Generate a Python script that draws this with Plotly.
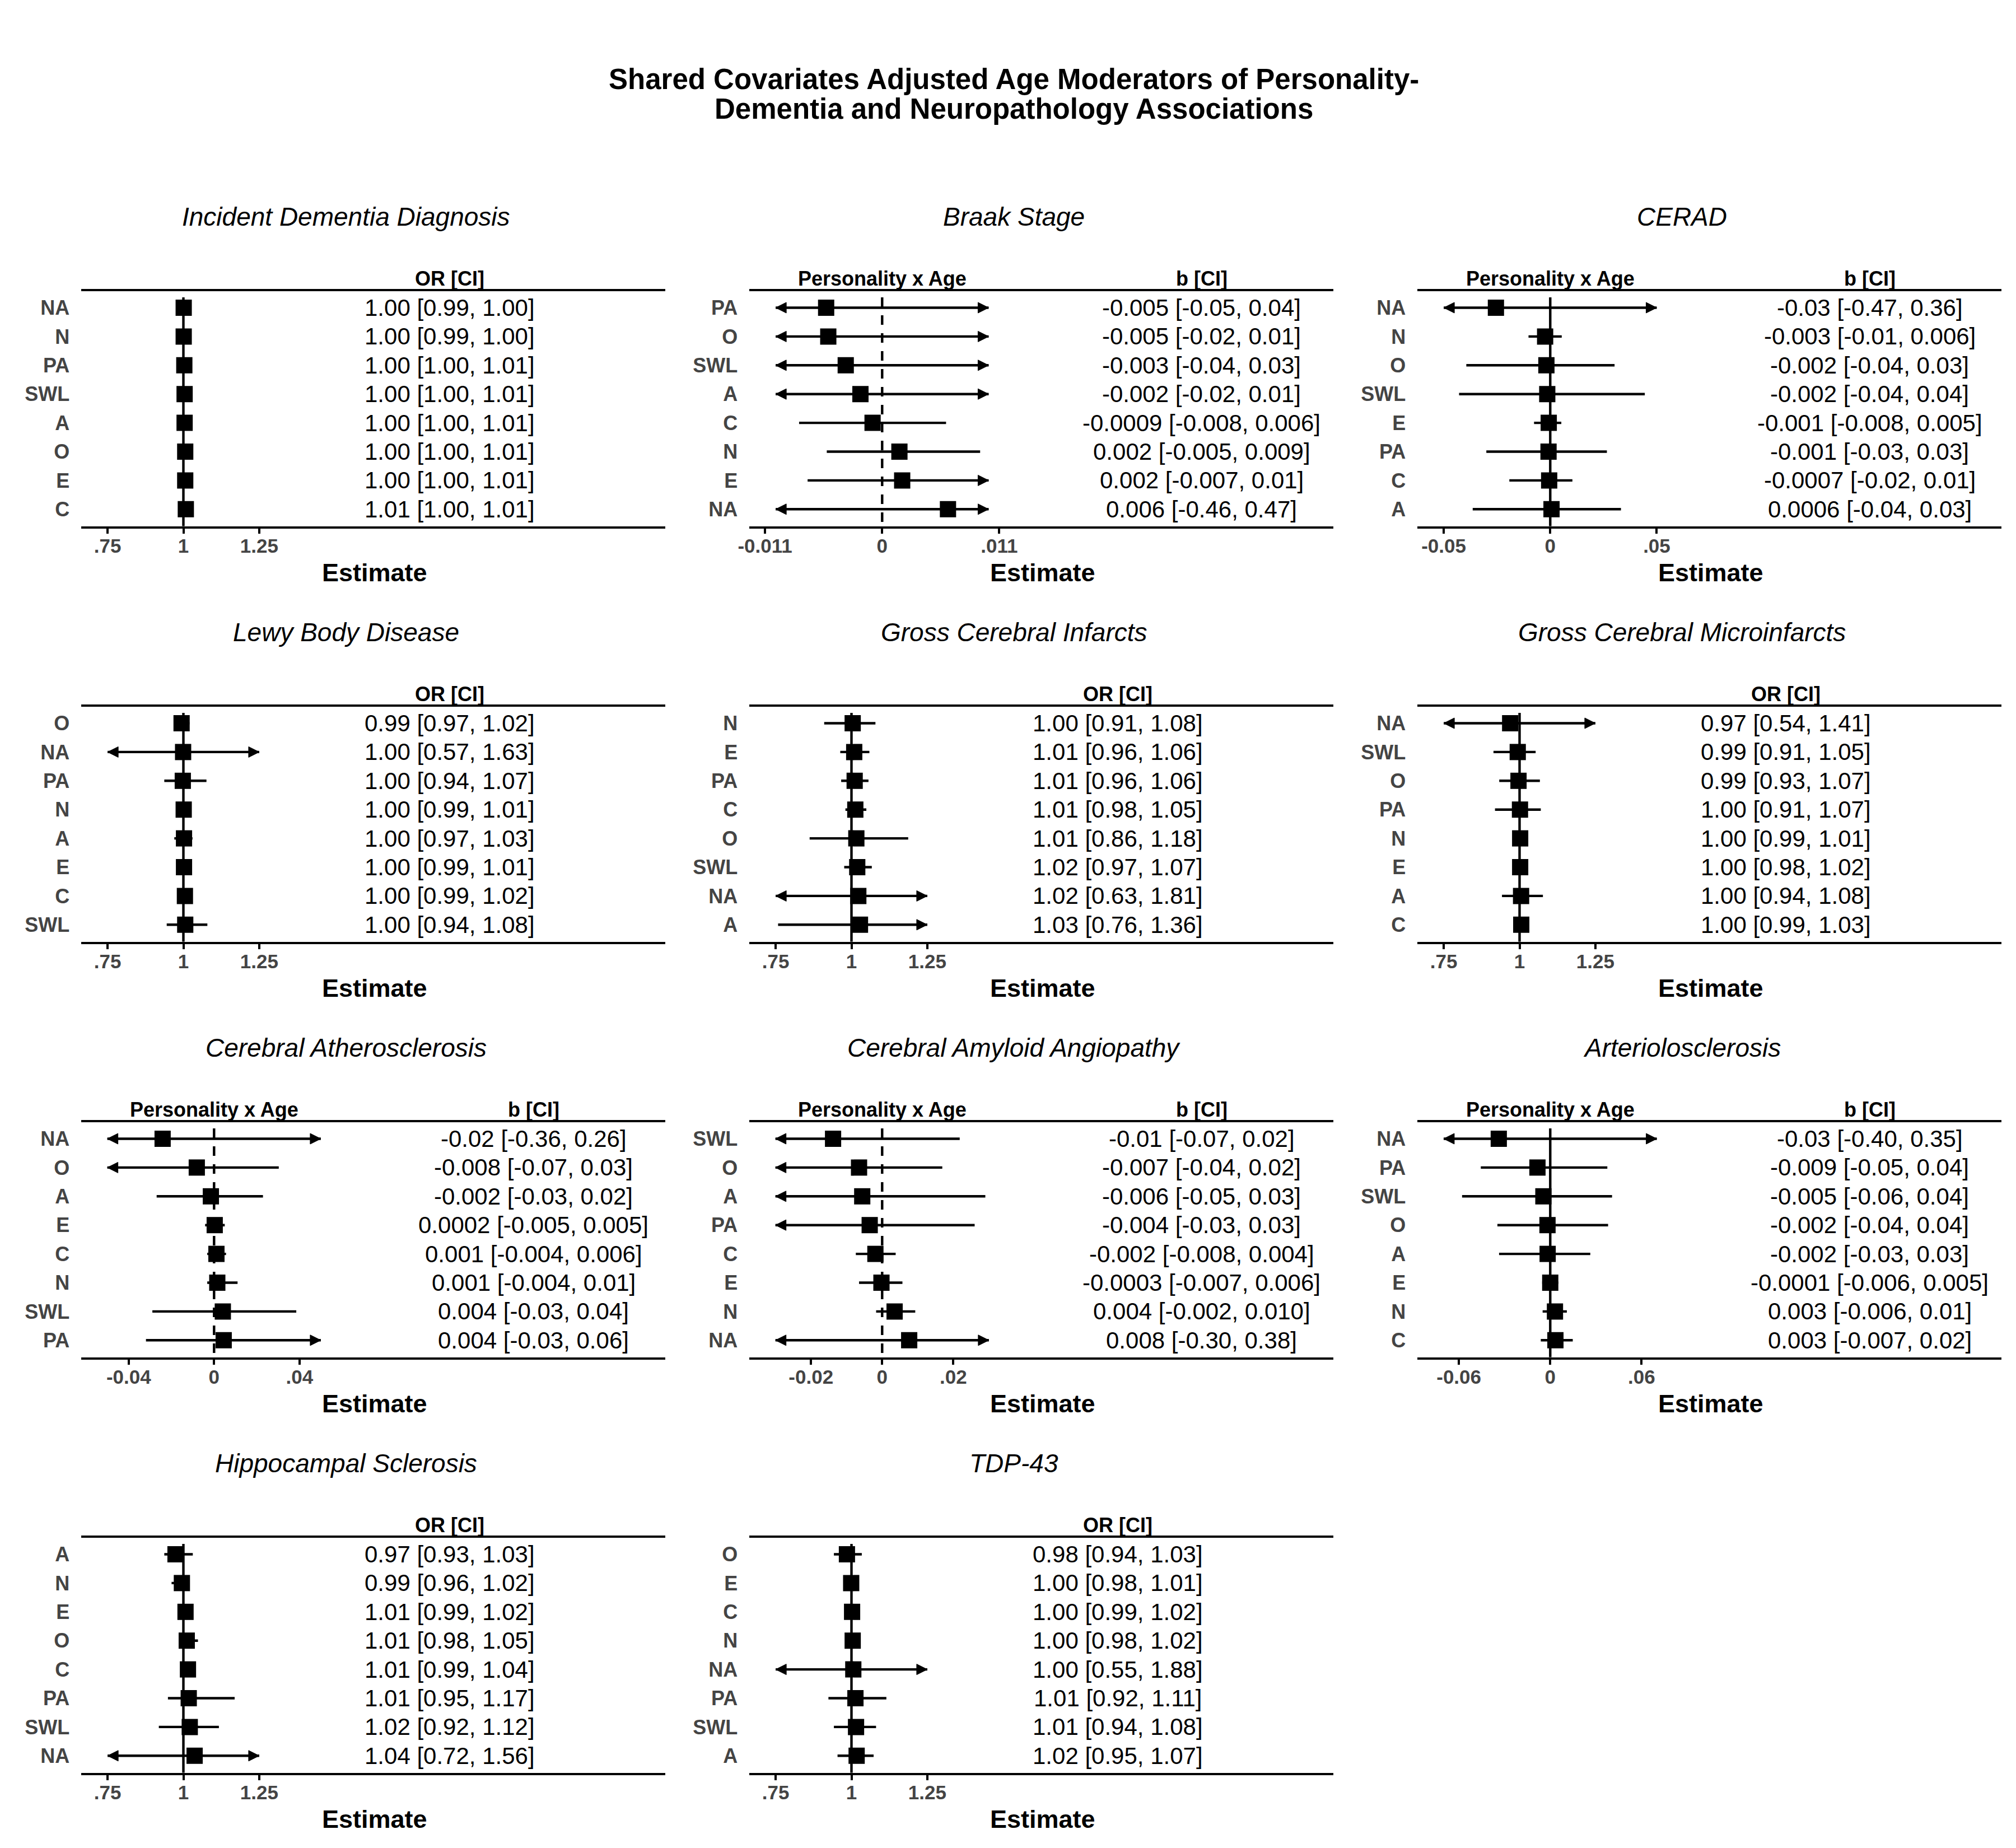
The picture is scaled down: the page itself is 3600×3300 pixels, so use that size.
import plotly.graph_objects as go

W, H = 3600, 3300
FONT = "Liberation Sans"

TITLE_LINE1 = "Shared Covariates Adjusted Age Moderators of Personality-"
TITLE_LINE2 = "Dementia and Neuropathology Associations"

# ---------------- data ----------------
IDD_title = "Incident Dementia Diagnosis"
IDD_rows = ["NA", "N", "PA", "SWL", "A", "O", "E", "C"]
IDD_est = [1.001, 1.001, 1.003, 1.004, 1.004, 1.006, 1.006, 1.008]
IDD_lo = [0.99, 0.99, 1.00, 1.00, 1.00, 1.00, 1.00, 1.00]
IDD_hi = [1.00, 1.00, 1.01, 1.01, 1.01, 1.01, 1.01, 1.01]
IDD_txt = ["1.00 [0.99, 1.00]", "1.00 [0.99, 1.00]", "1.00 [1.00, 1.01]", "1.00 [1.00, 1.01]",
           "1.00 [1.00, 1.01]", "1.00 [1.00, 1.01]", "1.00 [1.00, 1.01]", "1.01 [1.00, 1.01]"]

BRK_title = "Braak Stage"
BRK_rows = ["PA", "O", "SWL", "A", "C", "N", "E", "NA"]
BRK_est = [-0.00526, -0.00506, -0.00342, -0.00204, -0.0009, 0.00162, 0.00188, 0.00618]
BRK_lo = [-0.05, -0.02, -0.04, -0.02, -0.0078, -0.0052, -0.007, -0.46]
BRK_hi = [0.04, 0.01, 0.03, 0.01, 0.006, 0.0092, 0.01, 0.47]
BRK_txt = ["-0.005 [-0.05, 0.04]", "-0.005 [-0.02, 0.01]", "-0.003 [-0.04, 0.03]", "-0.002 [-0.02, 0.01]",
           "-0.0009 [-0.008, 0.006]", "0.002 [-0.005, 0.009]", "0.002 [-0.007, 0.01]", "0.006 [-0.46, 0.47]"]

CER_title = "CERAD"
CER_rows = ["NA", "N", "O", "SWL", "E", "PA", "C", "A"]
CER_est = [-0.0255, -0.0024, -0.0018, -0.0014, -0.0007, -0.0008, -0.0005, 0.0006]
CER_lo = [-0.47, -0.0102, -0.0394, -0.0428, -0.0076, -0.030, -0.0192, -0.0364]
CER_hi = [0.36, 0.0054, 0.0302, 0.0444, 0.0052, 0.0266, 0.0104, 0.0332]
CER_txt = ["-0.03 [-0.47, 0.36]", "-0.003 [-0.01, 0.006]", "-0.002 [-0.04, 0.03]", "-0.002 [-0.04, 0.04]",
           "-0.001 [-0.008, 0.005]", "-0.001 [-0.03, 0.03]", "-0.0007 [-0.02, 0.01]", "0.0006 [-0.04, 0.03]"]

LBD_title = "Lewy Body Disease"
LBD_rows = ["O", "NA", "PA", "N", "A", "E", "C", "SWL"]
LBD_est = [0.994, 0.999, 0.998, 1.001, 1.002, 1.002, 1.005, 1.006]
LBD_lo = [0.97, 0.57, 0.937, 0.99, 0.97, 0.99, 0.99, 0.945]
LBD_hi = [1.02, 1.63, 1.076, 1.01, 1.03, 1.01, 1.02, 1.079]
LBD_txt = ["0.99 [0.97, 1.02]", "1.00 [0.57, 1.63]", "1.00 [0.94, 1.07]", "1.00 [0.99, 1.01]",
           "1.00 [0.97, 1.03]", "1.00 [0.99, 1.01]", "1.00 [0.99, 1.02]", "1.00 [0.94, 1.08]"]

GCI_title = "Gross Cerebral Infarcts"
GCI_rows = ["N", "E", "PA", "C", "O", "SWL", "NA", "A"]
GCI_est = [1.004, 1.009, 1.0105, 1.0126, 1.016, 1.019, 1.0225, 1.028]
GCI_lo = [0.910, 0.963, 0.966, 0.98, 0.862, 0.976, 0.63, 0.758]
GCI_hi = [1.079, 1.059, 1.056, 1.049, 1.187, 1.067, 1.81, 1.36]
GCI_txt = ["1.00 [0.91, 1.08]", "1.01 [0.96, 1.06]", "1.01 [0.96, 1.06]", "1.01 [0.98, 1.05]",
           "1.01 [0.86, 1.18]", "1.02 [0.97, 1.07]", "1.02 [0.63, 1.81]", "1.03 [0.76, 1.36]"]

GCM_title = "Gross Cerebral Microinfarcts"
GCM_rows = ["NA", "SWL", "O", "PA", "N", "E", "A", "C"]
GCM_est = [0.969, 0.994, 0.9965, 1.0014, 1.002, 1.002, 1.005, 1.0056]
GCM_lo = [0.54, 0.914, 0.933, 0.919, 0.99, 0.98, 0.942, 0.99]
GCM_hi = [1.41, 1.053, 1.067, 1.070, 1.01, 1.02, 1.077, 1.03]
GCM_txt = ["0.97 [0.54, 1.41]", "0.99 [0.91, 1.05]", "0.99 [0.93, 1.07]", "1.00 [0.91, 1.07]",
           "1.00 [0.99, 1.01]", "1.00 [0.98, 1.02]", "1.00 [0.94, 1.08]", "1.00 [0.99, 1.03]"]

ATH_title = "Cerebral Atherosclerosis"
ATH_rows = ["NA", "O", "A", "E", "C", "N", "SWL", "PA"]
ATH_est = [-0.0241, -0.0081, -0.0015, 0.0003, 0.0011, 0.0015, 0.0041, 0.0045]
ATH_lo = [-0.36, -0.07, -0.0269, -0.0042, -0.0032, -0.0032, -0.0289, -0.0319]
ATH_hi = [0.26, 0.0303, 0.0229, 0.005, 0.0056, 0.011, 0.0385, 0.06]
ATH_txt = ["-0.02 [-0.36, 0.26]", "-0.008 [-0.07, 0.03]", "-0.002 [-0.03, 0.02]", "0.0002 [-0.005, 0.005]",
           "0.001 [-0.004, 0.006]", "0.001 [-0.004, 0.01]", "0.004 [-0.03, 0.04]", "0.004 [-0.03, 0.06]"]

CAA_title = "Cerebral Amyloid Angiopathy"
CAA_rows = ["SWL", "O", "A", "PA", "C", "E", "N", "NA"]
CAA_est = [-0.0138, -0.0065, -0.0056, -0.0035, -0.0019, -0.0002, 0.0035, 0.0076]
CAA_lo = [-0.07, -0.04, -0.05, -0.03, -0.0074, -0.0065, -0.0017, -0.30]
CAA_hi = [0.0218, 0.0169, 0.029, 0.026, 0.0038, 0.0057, 0.0093, 0.38]
CAA_txt = ["-0.01 [-0.07, 0.02]", "-0.007 [-0.04, 0.02]", "-0.006 [-0.05, 0.03]", "-0.004 [-0.03, 0.03]",
           "-0.002 [-0.008, 0.004]", "-0.0003 [-0.007, 0.006]", "0.004 [-0.002, 0.010]", "0.008 [-0.30, 0.38]"]

ART_title = "Arteriolosclerosis"
ART_rows = ["NA", "PA", "SWL", "O", "A", "E", "N", "C"]
ART_est = [-0.0338, -0.0084, -0.0045, -0.0018, -0.0017, 0.0, 0.0031, 0.0034]
ART_lo = [-0.40, -0.0456, -0.0579, -0.0347, -0.0336, -0.0053, -0.005, -0.0062]
ART_hi = [0.35, 0.0375, 0.0406, 0.038, 0.0263, 0.0053, 0.0109, 0.0148]
ART_txt = ["-0.03 [-0.40, 0.35]", "-0.009 [-0.05, 0.04]", "-0.005 [-0.06, 0.04]", "-0.002 [-0.04, 0.04]",
           "-0.002 [-0.03, 0.03]", "-0.0001 [-0.006, 0.005]", "0.003 [-0.006, 0.01]", "0.003 [-0.007, 0.02]"]

HSC_title = "Hippocampal Sclerosis"
HSC_rows = ["A", "N", "E", "O", "C", "PA", "SWL", "NA"]
HSC_est = [0.974, 0.995, 1.007, 1.011, 1.015, 1.0176, 1.021, 1.037]
HSC_lo = [0.937, 0.961, 0.99, 0.985, 0.99, 0.949, 0.919, 0.72]
HSC_hi = [1.031, 1.021, 1.02, 1.048, 1.04, 1.169, 1.117, 1.56]
HSC_txt = ["0.97 [0.93, 1.03]", "0.99 [0.96, 1.02]", "1.01 [0.99, 1.02]", "1.01 [0.98, 1.05]",
           "1.01 [0.99, 1.04]", "1.01 [0.95, 1.17]", "1.02 [0.92, 1.12]", "1.04 [0.72, 1.56]"]

TDP_title = "TDP-43"
TDP_rows = ["O", "E", "C", "N", "NA", "PA", "SWL", "A"]
TDP_est = [0.985, 0.999, 1.002, 1.004, 1.006, 1.013, 1.015, 1.017]
TDP_lo = [0.942, 0.98, 0.99, 0.98, 0.55, 0.924, 0.942, 0.954]
TDP_hi = [1.034, 1.01, 1.02, 1.02, 1.88, 1.115, 1.081, 1.073]
TDP_txt = ["0.98 [0.94, 1.03]", "1.00 [0.98, 1.01]", "1.00 [0.99, 1.02]", "1.00 [0.98, 1.02]",
           "1.00 [0.55, 1.88]", "1.01 [0.92, 1.11]", "1.01 [0.94, 1.08]", "1.02 [0.95, 1.07]"]

OR_ticks = [0.75, 1, 1.25]
OR_ticktext = [".75", "1", "1.25"]
BRK_ticks = [-0.011, 0, 0.011]
BRK_ticktext = ["-0.011", "0", ".011"]
CER_ticks = [-0.05, 0, 0.05]
CER_ticktext = ["-0.05", "0", ".05"]
ATH_ticks = [-0.04, 0, 0.04]
ATH_ticktext = ["-0.04", "0", ".04"]
CAA_ticks = [-0.02, 0, 0.02]
CAA_ticktext = ["-0.02", "0", ".02"]
ART_ticks = [-0.06, 0, 0.06]
ART_ticktext = ["-0.06", "0", ".06"]

# ---------------- panel specification ----------------
def OR_axis():
    return dict(kind="OR", c=1.0, cpx=308.3, ppu=544.8, clip=(0.75, 1.25),
                ticks=OR_ticks, ticktext=OR_ticktext, dash="solid")

def B_axis(ppu, lim, ticks, ticktext, dash):
    return dict(kind="B", c=0.0, cpx=363.4, ppu=ppu, clip=(-lim, lim),
                ticks=ticks, ticktext=ticktext, dash=dash)

panels = [
    (0, 0, IDD_title, IDD_rows, IDD_est, IDD_lo, IDD_hi, IDD_txt, OR_axis()),
    (0, 1, BRK_title, BRK_rows, BRK_est, BRK_lo, BRK_hi, BRK_txt, B_axis(19128, 0.01, BRK_ticks, BRK_ticktext, "dash")),
    (0, 2, CER_title, CER_rows, CER_est, CER_lo, CER_hi, CER_txt, B_axis(3826, 0.05, CER_ticks, CER_ticktext, "solid")),
    (1, 0, LBD_title, LBD_rows, LBD_est, LBD_lo, LBD_hi, LBD_txt, OR_axis()),
    (1, 1, GCI_title, GCI_rows, GCI_est, GCI_lo, GCI_hi, GCI_txt, OR_axis()),
    (1, 2, GCM_title, GCM_rows, GCM_est, GCM_lo, GCM_hi, GCM_txt, OR_axis()),
    (2, 0, ATH_title, ATH_rows, ATH_est, ATH_lo, ATH_hi, ATH_txt, B_axis(3835, 0.05, ATH_ticks, ATH_ticktext, "dash")),
    (2, 1, CAA_title, CAA_rows, CAA_est, CAA_lo, CAA_hi, CAA_txt, B_axis(6390, 0.03, CAA_ticks, CAA_ticktext, "dash")),
    (2, 2, ART_title, ART_rows, ART_est, ART_lo, ART_hi, ART_txt, B_axis(2735, 0.07, ART_ticks, ART_ticktext, "solid")),
    (3, 0, HSC_title, HSC_rows, HSC_est, HSC_lo, HSC_hi, HSC_txt, OR_axis()),
    (3, 1, TDP_title, TDP_rows, TDP_est, TDP_lo, TDP_hi, TDP_txt, OR_axis()),
]

# geometry (px, relative to each panel's origin)
COL_W, ROW_H = 1200, 742
X_L, X_R = 125, 1174
Y_TITLE = 387
Y_HEAD = 497.6
Y_TOP = 519.6
Y_BOT = 939.7
Y_ROW0 = 549.5
ROW_STEP = 51.4
Y_XLAB = 1022.8

LABEL_GRAY = "#444444"
LW = 4.4

def px(xp):
    return xp / W

def py(yp):
    return 1 - yp / H

fig = go.Figure()
annotations = []
shapes = []
layout_axes = {}

annotations.append(dict(text="<b>" + TITLE_LINE1 + "</b>", x=0.5, y=py(141), xref="paper", yref="paper",
                        xanchor="center", yanchor="middle", showarrow=False,
                        font=dict(family=FONT, size=51, color="black")))
annotations.append(dict(text="<b>" + TITLE_LINE2 + "</b>", x=0.5, y=py(194), xref="paper", yref="paper",
                        xanchor="center", yanchor="middle", showarrow=False,
                        font=dict(family=FONT, size=51, color="black")))

for k, (r, c, title, rows, est, lo, hi, txt, ax) in enumerate(panels, start=1):
    ox, oy = c * COL_W, r * ROW_H
    xa = "x" if k == 1 else f"x{k}"
    ya = "y" if k == 1 else f"y{k}"
    n = len(rows)
    ypos = list(range(n))
    y_top_i = (Y_TOP - Y_ROW0) / ROW_STEP
    y_bot_i = (Y_BOT - Y_ROW0) / ROW_STEP
    xr = [ax["c"] + (X_L - ax["cpx"]) / ax["ppu"], ax["c"] + (X_R - ax["cpx"]) / ax["ppu"]]
    clo, chi = ax["clip"]

    # CI segments (clipped to the plotting limits, arrows where clipped)
    lx, ly = [], []
    ar_x, ar_y, al_x, al_y = [], [], [], []
    for i in range(n):
        a = max(lo[i], clo)
        b = min(hi[i], chi)
        lx += [a, b, None]
        ly += [i, i, None]
        if hi[i] >= chi:
            ar_x.append(chi); ar_y.append(i)
        if lo[i] <= clo:
            al_x.append(clo); al_y.append(i)

    fig.add_trace(go.Scatter(x=lx, y=ly, mode="lines", line=dict(color="black", width=LW),
                             xaxis=xa, yaxis=ya, showlegend=False, hoverinfo="skip"))
    if ar_x:
        fig.add_trace(go.Scatter(x=ar_x, y=ar_y, mode="markers",
                                 marker=dict(symbol="arrow-right", size=19, color="black",
                                             line=dict(width=1, color="black")),
                                 xaxis=xa, yaxis=ya, showlegend=False, hoverinfo="skip"))
    if al_x:
        fig.add_trace(go.Scatter(x=al_x, y=al_y, mode="markers",
                                 marker=dict(symbol="arrow-left", size=19, color="black",
                                             line=dict(width=1, color="black")),
                                 xaxis=xa, yaxis=ya, showlegend=False, hoverinfo="skip"))
    fig.add_trace(go.Scatter(x=est, y=ypos, mode="markers",
                             marker=dict(symbol="square", size=29, color="black", line=dict(width=0)),
                             xaxis=xa, yaxis=ya, showlegend=False,
                             text=txt, hoverinfo="text"))

    # reference line
    shapes.append(dict(type="line", xref=xa, yref=ya, x0=ax["c"], x1=ax["c"], y0=-0.36, y1=y_bot_i,
                       line=dict(color="black", width=LW,
                                 dash="17px,15px" if ax["dash"] == "dash" else "solid"),
                       layer="below"))

    layout_axes["xaxis" if k == 1 else f"xaxis{k}"] = dict(
        domain=[px(ox + X_L), px(ox + X_R)], range=xr, anchor=ya,
        showline=True, mirror=True, linecolor="black", linewidth=4.4,
        ticks="outside", ticklen=9, tickwidth=3.5, tickcolor="black",
        tickvals=ax["ticks"], ticktext=ax["ticktext"],
        tickfont=dict(family=FONT, size=35, color=LABEL_GRAY, weight="bold"),
        showgrid=False, zeroline=False, fixedrange=True, ticklabelstandoff=-8)
    layout_axes["yaxis" if k == 1 else f"yaxis{k}"] = dict(
        domain=[py(oy + Y_BOT), py(oy + Y_TOP)], range=[y_bot_i, y_top_i], anchor=xa,
        tickvals=ypos, ticktext=rows, ticks="",
        tickfont=dict(family=FONT, size=36, color=LABEL_GRAY, weight="bold"),
        showgrid=False, zeroline=False, showline=False, fixedrange=True, ticklabelstandoff=20)

    # panel title
    annotations.append(dict(text="<i>" + title + "</i>", x=px(ox + 600), y=py(oy + Y_TITLE),
                            xref="paper", yref="paper", xanchor="center", yanchor="middle", showarrow=False,
                            font=dict(family=FONT, size=46, color="black")))
    # headers
    if ax["kind"] == "OR":
        txt_cx = 787
        annotations.append(dict(text="<b>OR [CI]</b>", x=px(ox + txt_cx), y=py(oy + Y_HEAD),
                                xref="paper", yref="paper", xanchor="center", yanchor="middle",
                                showarrow=False, font=dict(family=FONT, size=36, color="black")))
    else:
        txt_cx = 937
        annotations.append(dict(text="<b>Personality x Age</b>", x=px(ox + 363.4), y=py(oy + Y_HEAD),
                                xref="paper", yref="paper", xanchor="center", yanchor="middle",
                                showarrow=False, font=dict(family=FONT, size=36, color="black")))
        annotations.append(dict(text="<b>b [CI]</b>", x=px(ox + txt_cx), y=py(oy + Y_HEAD),
                                xref="paper", yref="paper", xanchor="center", yanchor="middle",
                                showarrow=False, font=dict(family=FONT, size=36, color="black")))
    # value text column
    for i in range(n):
        annotations.append(dict(text=txt[i], x=px(ox + txt_cx), y=i, xref="paper", yref=ya,
                                xanchor="center", yanchor="middle", showarrow=False,
                                font=dict(family=FONT, size=42, color="black")))
    # axis title
    annotations.append(dict(text="<b>Estimate</b>", x=px(ox + 652), y=py(oy + Y_XLAB),
                            xref="paper", yref="paper", xanchor="center", yanchor="middle", showarrow=False,
                            font=dict(family=FONT, size=45, color="black")))

fig.update_layout(width=W, height=H, margin=dict(l=0, r=0, t=0, b=0),
                  paper_bgcolor="white", plot_bgcolor="white",
                  annotations=annotations, shapes=shapes, showlegend=False,
                  font=dict(family=FONT), **layout_axes)

fig.write_html("out.html",
               post_script="document.body.style.margin='0';document.body.style.padding='0';"
                           "document.documentElement.style.overflow='hidden';")
